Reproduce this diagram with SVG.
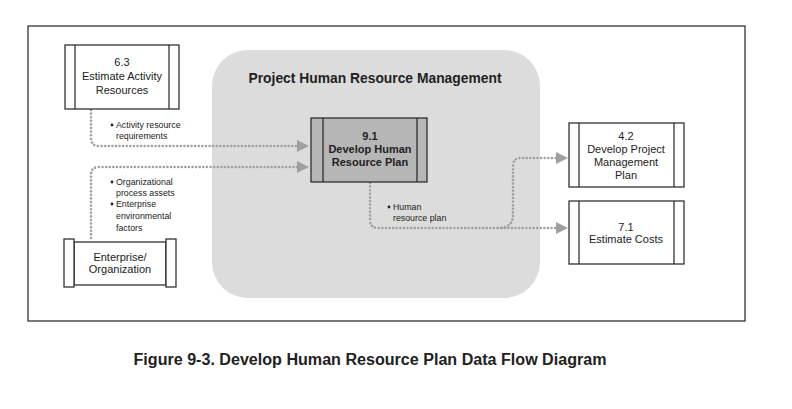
<svg xmlns="http://www.w3.org/2000/svg" width="792" height="409" viewBox="0 0 792 409">
<defs>
<style>
.box{fill:#fff;stroke:#222;stroke-width:1.2}
.grey{fill:#b6b6b6;stroke:#222;stroke-width:1.2}
.t{font-family:"Liberation Sans",Arial,sans-serif;font-size:11px;fill:#222;text-anchor:middle}
.tb{font-family:"Liberation Sans",Arial,sans-serif;font-size:11px;font-weight:bold;fill:#222;text-anchor:middle}
.lbl{font-family:"Liberation Sans",Arial,sans-serif;font-size:8.8px;fill:#222}
.flow{fill:none;stroke:#a0a0a0;stroke-width:2.6;stroke-linecap:round;stroke-dasharray:0 3.6}
</style>
<marker id="arr" markerUnits="userSpaceOnUse" markerWidth="14" markerHeight="14" refX="1" refY="6" orient="auto">
<path d="M0,0 L12,6 L0,12 Z" fill="#a0a0a0"/>
</marker>
</defs>
<rect width="792" height="409" fill="#fff"/>
<rect x="28" y="26" width="717" height="295" fill="none" stroke="#222" stroke-width="1.2"/>
<g id="group-hrm">
<rect x="212" y="50" width="328" height="248" rx="36" ry="36" fill="#dcdcdc"/>
<text x="375" y="83" font-family="'Liberation Sans',Arial,sans-serif" font-size="14" font-weight="bold" fill="#222" text-anchor="middle" textLength="253" lengthAdjust="spacingAndGlyphs">Project Human Resource Management</text>
</g>
<g id="connectors">
<path class="flow" d="M91,110 V138 Q91,146 99,146 H298" marker-end="url(#arr)"/>
<path class="flow" d="M91,238 V175 Q91,167 99,167 H298" marker-end="url(#arr)"/>
<path class="flow" d="M370,183 V220 Q370,228 378,228 H557" marker-end="url(#arr)"/>
<path class="flow" d="M498,228 Q513,228 513,215 V166 Q513,158 521,158 H557" marker-end="url(#arr)"/>
<g class="lbl">
<circle cx="112" cy="125" r="1.4" fill="#222"/>
<text x="116" y="128">Activity resource</text>
<text x="116" y="139">requirements</text>
<circle cx="112" cy="182" r="1.4" fill="#222"/>
<text x="116" y="185">Organizational</text>
<text x="116" y="196">process assets</text>
<circle cx="112" cy="204" r="1.4" fill="#222"/>
<text x="116" y="207">Enterprise</text>
<text x="116" y="219">environmental</text>
<text x="116" y="231">factors</text>
<circle cx="389" cy="207" r="1.4" fill="#222"/>
<text x="393" y="210">Human</text>
<text x="393" y="221">resource plan</text>
</g>
</g>
<g id="node-6-3">
<rect class="box" x="65" y="45" width="114" height="64"/>
<line x1="75" y1="45" x2="75" y2="109" stroke="#222" stroke-width="1.2"/>
<line x1="169" y1="45" x2="169" y2="109" stroke="#222" stroke-width="1.2"/>
<text class="t" x="122" y="66">6.3</text>
<text class="t" x="122" y="80">Estimate Activity</text>
<text class="t" x="122" y="94">Resources</text>
</g>
<g id="node-enterprise">
<rect class="box" x="74" y="242" width="92" height="43"/>
<rect class="box" x="64" y="239" width="10" height="48"/>
<rect class="box" x="166" y="239" width="10" height="48"/>
<text class="t" x="120" y="261">Enterprise/</text>
<text class="t" x="120" y="273">Organization</text>
</g>
<g id="node-9-1">
<rect class="grey" x="311" y="118" width="116" height="64"/>
<line x1="323" y1="118" x2="323" y2="182" stroke="#222" stroke-width="1.2"/>
<line x1="417" y1="118" x2="417" y2="182" stroke="#222" stroke-width="1.2"/>
<text class="tb" x="370" y="140">9.1</text>
<text class="tb" x="370" y="153">Develop Human</text>
<text class="tb" x="370" y="166">Resource Plan</text>
</g>
<g id="node-4-2">
<rect class="box" x="569" y="123" width="115" height="64"/>
<line x1="579" y1="123" x2="579" y2="187" stroke="#222" stroke-width="1.2"/>
<line x1="674" y1="123" x2="674" y2="187" stroke="#222" stroke-width="1.2"/>
<text class="t" x="626" y="140">4.2</text>
<text class="t" x="626" y="153">Develop Project</text>
<text class="t" x="626" y="166">Management</text>
<text class="t" x="626" y="179">Plan</text>
</g>
<g id="node-7-1">
<rect class="box" x="569" y="201" width="115" height="63"/>
<line x1="579" y1="201" x2="579" y2="264" stroke="#222" stroke-width="1.2"/>
<line x1="674" y1="201" x2="674" y2="264" stroke="#222" stroke-width="1.2"/>
<text class="t" x="626" y="231">7.1</text>
<text class="t" x="626" y="243">Estimate Costs</text>
</g>
<text x="370" y="365" font-family="'Liberation Sans',Arial,sans-serif" font-size="16" font-weight="bold" fill="#222" text-anchor="middle" textLength="473" lengthAdjust="spacingAndGlyphs">Figure 9-3. Develop Human Resource Plan Data Flow Diagram</text>
</svg>
